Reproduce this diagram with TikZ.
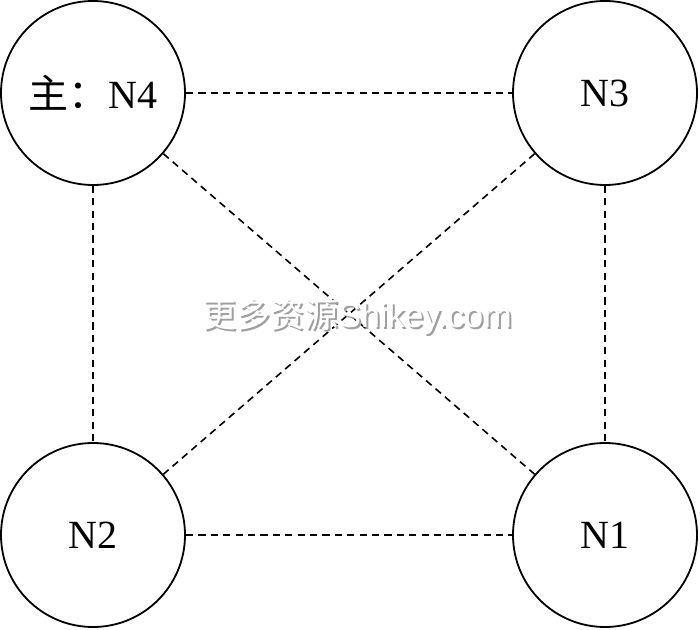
\documentclass[tikz,border=0pt]{standalone}
\usepackage{fontspec}
\setmainfont{Liberation Serif}
\newfontfamily\cjkfont{Noto Sans CJK SC}
\newfontfamily\markfont{Liberation Sans}
\usetikzlibrary{positioning}
\tikzset{host/.style = {draw, circle, line width = 0.9pt, inner sep = 0, minimum size = 92pt,
    font = \fontsize{20}{24}\selectfont}}
\tikzset{link/.style = {line width = 0.8pt, dash pattern = on 3.6pt off 2.6pt}}

\begin{document}
\begin{tikzpicture}[x=0.5pt, y=-0.5pt]
      \useasboundingbox (0, 0) rectangle (700, 630);

      \node [host] (n4) at (93, 93) {{\cjkfont 主：}N4};
      \node [host] (n3) at (605, 93) {N3};
      \node [host] (n2) at (93, 535) {N2};
      \node [host] (n1) at (605, 535) {N1};

      \foreach \a/\b in {n4/n3,n4/n2,n3/n1,n2/n1,n4/n1,n3/n2} {
        \draw [link] (\a) -- (\b);
      }

      % watermark
      \node [text = gray!75, font = \fontsize{17}{20}\selectfont] (markshade) at (359, 319)
        {{\cjkfont 更多资源}{\markfont Shikey.com}};
      \node [text = white, font = \fontsize{17}{20}\selectfont] (mark) at (357, 317)
        {{\cjkfont 更多资源}{\markfont Shikey.com}};
    \end{tikzpicture}
\end{document}
